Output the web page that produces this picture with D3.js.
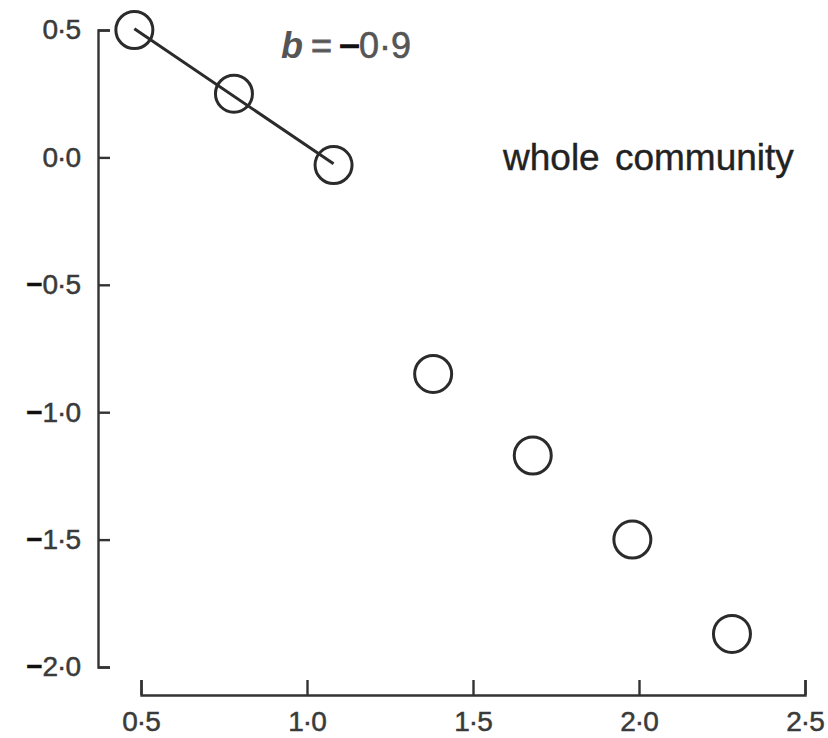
<!DOCTYPE html>
<html>
<head>
<meta charset="utf-8">
<script src="https://cdn.jsdelivr.net/npm/d3@7"></script>
<style>
  html, body { margin: 0; padding: 0; background: #fff; }
  svg { display: block; }
  text { font-family: "Liberation Sans", Arial, Helvetica, sans-serif; }
</style>
</head>
<body>
<svg id="chart" width="828" height="738"></svg>
<script>
// Size classes (log scale) and their log abundance values
const sizeClass = [0.48, 0.78, 1.08, 1.38, 1.68, 1.98, 2.28];
const logValue  = [0.50, 0.25, -0.03, -0.85, -1.17, -1.50, -1.87];
// Points used for the fitted slope (first three classes)
const fitCount = 3;
const xTicks = [0.5, 1.0, 1.5, 2.0, 2.5];
const yTicks = [0.5, 0.0, -0.5, -1.0, -1.5, -2.0];
const slopeLabel = "−0·9";
const panelLabel = "whole community";

const svg = d3.select("#chart");
const ink = "#2b2b2b";

const x = d3.scaleLinear().domain([0.5, 2.5]).range([141, 805]);
const y = d3.scaleLinear().domain([-2.0, 0.5]).range([667, 30]);

// Tick text: decimal shown as a raised dot, minus drawn heavier
function tickText(sel) {
  sel.each(function(d) {
    const s = d3.format(".1f")(Math.abs(d)).split(".");
    const t = d3.select(this).text(null);
    if (d < 0) t.append("tspan").attr("font-weight", "bold").attr("fill", "#111").attr("stroke", "#111").text("−");
    t.append("tspan").text(s[0]);
    t.append("tspan").attr("dx", -1).text("·");
    t.append("tspan").attr("dx", -1).text(s[1]);
  });
}

// y axis: ticks pointing into the plot, labels on the left
const yAxis = svg.append("g")
  .attr("transform", "translate(98,0)")
  .call(d3.axisLeft(y).tickValues(yTicks).tickSizeInner(-12).tickSizeOuter(-12).tickPadding(17));
yAxis.selectAll("text").call(tickText);

// x axis: ticks pointing up into the plot
const xAxis = svg.append("g")
  .attr("transform", "translate(0,695)")
  .call(d3.axisBottom(x).tickValues(xTicks).tickSizeInner(-15).tickSizeOuter(-15).tickPadding(16));
xAxis.selectAll("text").call(tickText);

svg.selectAll(".domain, .tick line").attr("stroke", "#333").attr("stroke-width", 2.4);
svg.selectAll(".tick text")
  .attr("font-size", 28).attr("fill", "#3a3a3a")
  .attr("stroke", "#3a3a3a").attr("stroke-width", 0.5);

// least-squares fit on the first classes
const fx = sizeClass.slice(0, fitCount), fy = logValue.slice(0, fitCount);
const mx = d3.mean(fx), my = d3.mean(fy);
const slope = d3.sum(fx, (v, i) => (v - mx) * (fy[i] - my)) / d3.sum(fx, v => (v - mx) * (v - mx));
const x0 = d3.min(fx), x1 = d3.max(fx);
svg.append("line")
  .attr("x1", x(x0)).attr("y1", y(my + slope * (x0 - mx)))
  .attr("x2", x(x1)).attr("y2", y(my + slope * (x1 - mx)))
  .attr("stroke", ink).attr("stroke-width", 3);

// open circle markers
svg.append("g").selectAll("circle")
  .data(sizeClass.map((v, i) => [v, logValue[i]]))
  .join("circle")
  .attr("cx", d => x(d[0])).attr("cy", d => y(d[1]))
  .attr("r", 18.5)
  .attr("fill", "none").attr("stroke", ink).attr("stroke-width", 3);

// slope annotation
const ann = svg.append("text").attr("x", 281).attr("y", 58).attr("font-size", 36).attr("fill", "#555");
ann.append("tspan").attr("font-style", "italic").attr("font-weight", "bold").text("b");
ann.append("tspan").attr("dx", 8).attr("stroke", "#666").attr("stroke-width", 1).text("=");
ann.append("tspan").attr("dx", 7).attr("fill", "#111").attr("stroke", "#111").attr("stroke-width", 1.5).text(slopeLabel.charAt(0));
ann.append("tspan").attr("dx", -1).attr("stroke", "#555").attr("stroke-width", 0.6).text(slopeLabel.slice(1));

svg.append("text")
  .attr("x", 503).attr("y", 170)
  .attr("font-size", 37).attr("fill", "#222")
  .attr("stroke", "#222").attr("stroke-width", 0.4)
  .attr("word-spacing", 5)
  .text(panelLabel);
</script>
</body>
</html>
